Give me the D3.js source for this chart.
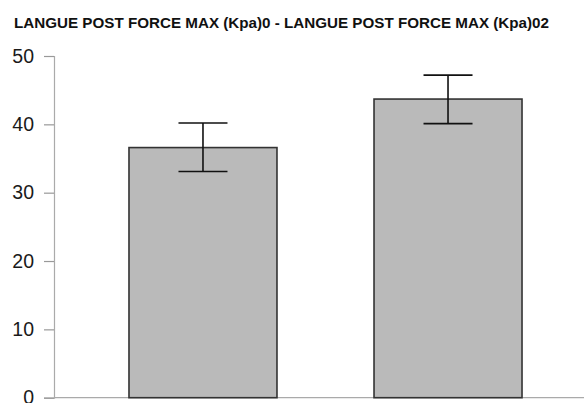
<!DOCTYPE html>
<html>
  <head>
    <title>Langue post force max</title>
    <script src="https://d3js.org/d3.v7.min.js"></script>
    <style>
      body { margin: 0; background: #fff; }
    </style>
  </head>
  <body>
    <svg id="chart" style="width:584px;height:403px;"></svg>

    <script>
      // values
      var groups = ["Kpa0", "Kpa02"];
      var means = [36.6, 43.7];
      var errLow = [33.1, 40.1];
      var errHigh = [40.2, 47.2];
      var yTicks = [0, 10, 20, 30, 40, 50];
      var title = "LANGUE POST FORCE MAX (Kpa)0 - LANGUE POST FORCE MAX (Kpa)02";

      var svg = d3.select("#chart");

      var y = d3.scaleLinear().domain([0, 50]).range([397.7, 56]);
      var x = d3.scaleBand().domain(groups).range([54, 597])
          .paddingInner(0.396).paddingOuter(0.306);

      svg.append("text")
        .attr("x", 14)
        .attr("y", 28)
        .style("font-family", "'Liberation Sans', Arial, sans-serif")
        .style("font-weight", "bold")
        .style("font-size", "15.2px")
        .style("fill", "#111")
        .text(title);

      // baseline
      svg.append("line")
        .attr("x1", 54).attr("x2", 584)
        .attr("y1", y(0)).attr("y2", y(0))
        .style("stroke", "#aaa").style("stroke-width", 1.2);

      var yAxis = svg.append("g")
        .attr("transform", "translate(54,0)")
        .call(d3.axisLeft(y).tickValues(yTicks).tickSize(10).tickPadding(10));

      yAxis.select(".domain").style("stroke", "#aaa").style("stroke-width", 1.2);
      yAxis.selectAll(".tick line").style("stroke", "#999").style("stroke-width", 1.2);
      yAxis.selectAll(".tick text")
        .style("font-family", "'Liberation Sans', Arial, sans-serif")
        .style("font-size", "19.5px")
        .style("fill", "#1a1a1a");

      var bars = svg.append("g");

      bars.selectAll("rect")
        .data(groups)
        .enter()
        .append("rect")
        .attr("x", d => x(d))
        .attr("width", x.bandwidth())
        .attr("y", (d, i) => y(means[i]))
        .attr("height", (d, i) => y(0) - y(means[i]))
        .style("fill", "#bababa")
        .style("stroke", "#333")
        .style("stroke-width", 1.6);

      var capHalf = 24.5;
      var err = svg.append("g").style("stroke", "#111").style("stroke-width", 1.6);

      groups.forEach(function (g, i) {
        var cx = x(g) + x.bandwidth() / 2;
        err.append("line")
          .attr("x1", cx).attr("x2", cx)
          .attr("y1", y(errLow[i])).attr("y2", y(errHigh[i]));
        err.append("line")
          .attr("x1", cx - capHalf).attr("x2", cx + capHalf)
          .attr("y1", y(errHigh[i])).attr("y2", y(errHigh[i]));
        err.append("line")
          .attr("x1", cx - capHalf).attr("x2", cx + capHalf)
          .attr("y1", y(errLow[i])).attr("y2", y(errLow[i]));
      });
    </script>
  </body>
</html>
